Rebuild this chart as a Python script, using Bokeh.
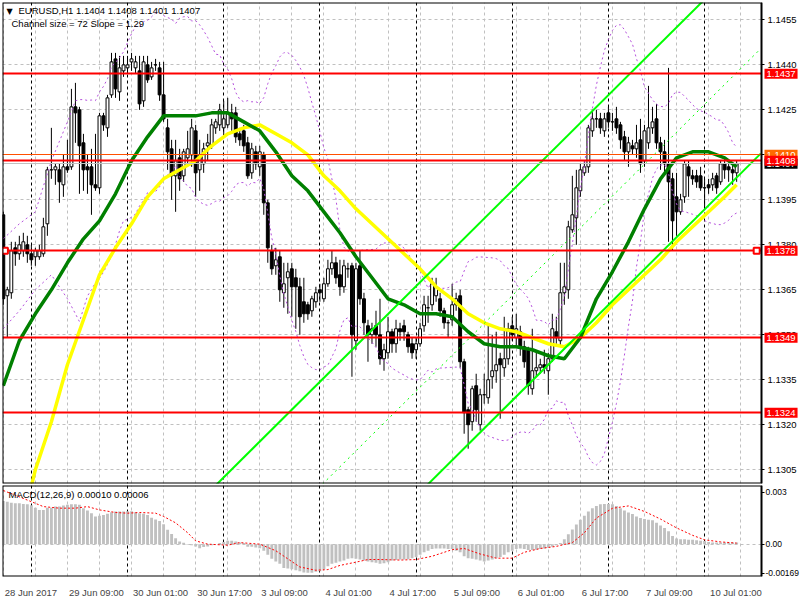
import numpy as np
from bokeh.plotting import figure
from bokeh.layouts import column
from bokeh.models import Range1d, FixedTicker, Label, NumeralTickFormatter, ColumnDataSource, Grid
from bokeh.embed import file_html
from bokeh.resources import INLINE

# ---------------- data ----------------
header_text = "EURUSD,H1  1.1404 1.1408 1.1401 1.1407"
channel_text = "Channel size = 72 Slope = 1.29"
macd_text = "MACD(12,26,9) 0.00010 0.00006"

opens = [
    1.1390, 1.1363, 1.1364, 1.1379, 1.1377, 1.1378, 1.1380, 1.1377, 1.1376, 1.1376,
    1.1377, 1.1387, 1.1405, 1.1405, 1.1405, 1.1400, 1.1406, 1.1406, 1.1426, 1.1425,
    1.1414, 1.1406, 1.1406, 1.1400, 1.1399, 1.1423, 1.1419, 1.1430, 1.1442, 1.1431,
    1.1438, 1.1439, 1.1441, 1.1439, 1.1438, 1.1428, 1.1440, 1.1436, 1.1440, 1.1439,
    1.1430, 1.1419, 1.1412, 1.1403, 1.1409, 1.1403, 1.1409, 1.1410, 1.1418, 1.1405,
    1.1407, 1.1413, 1.1413, 1.1419, 1.1420, 1.1419, 1.1420, 1.1424, 1.1424, 1.1417,
    1.1418, 1.1414, 1.1404, 1.1411, 1.1406, 1.1410, 1.1394, 1.1378, 1.1373, 1.1376,
    1.1364, 1.1369, 1.1372, 1.1369, 1.1366, 1.1361, 1.1360, 1.1358, 1.1361, 1.1365,
    1.1362, 1.1367, 1.1372, 1.1374, 1.1370, 1.1366, 1.1372, 1.1373, 1.1348, 1.1373,
    1.1362, 1.1353, 1.1350, 1.1353, 1.1350, 1.1342, 1.1344, 1.1351, 1.1347, 1.1352,
    1.1353, 1.1350, 1.1347, 1.1345, 1.1347, 1.1353, 1.1359, 1.1360, 1.1363, 1.1362,
    1.1358, 1.1354, 1.1355, 1.1360, 1.1363, 1.1341, 1.1325, 1.1321, 1.1333, 1.1320,
    1.1330, 1.1329, 1.1336, 1.1338, 1.1342, 1.1339, 1.1342, 1.1353, 1.1349, 1.1351,
    1.1346, 1.1345, 1.1332, 1.1338, 1.1339, 1.1340, 1.1338, 1.1342, 1.1351, 1.1348,
    1.1364, 1.1365, 1.1385, 1.1389, 1.1398, 1.1404, 1.1406, 1.1418, 1.1422, 1.1422,
    1.1418, 1.1424, 1.1421, 1.1422, 1.1420, 1.1416, 1.1411, 1.1413, 1.1412, 1.1415,
    1.1408, 1.1414, 1.1419, 1.1422, 1.1414, 1.1411, 1.1407, 1.1402, 1.1396, 1.1391,
    1.1396, 1.1406, 1.1403, 1.1403, 1.1403, 1.1399, 1.1400, 1.1400, 1.1403, 1.1401,
    1.1407, 1.1406, 1.1405, 1.1404,
]
highs = [
    1.1391, 1.1366, 1.1381, 1.1381, 1.1383, 1.1384, 1.1383, 1.1380, 1.1379, 1.1380,
    1.1389, 1.1406, 1.1419, 1.1407, 1.1407, 1.1410, 1.1415, 1.1432, 1.1434, 1.1426,
    1.1417, 1.1410, 1.1412, 1.1417, 1.1424, 1.1424, 1.1430, 1.1444, 1.1444, 1.1443,
    1.1443, 1.1443, 1.1444, 1.1443, 1.1443, 1.1443, 1.1443, 1.1441, 1.1442, 1.1441,
    1.1441, 1.1422, 1.1415, 1.1415, 1.1412, 1.1412, 1.1418, 1.1422, 1.1420, 1.1415,
    1.1414, 1.1417, 1.1422, 1.1422, 1.1427, 1.1428, 1.1429, 1.1427, 1.1426, 1.1419,
    1.1420, 1.1416, 1.1414, 1.1413, 1.1413, 1.1411, 1.1395, 1.1380, 1.1379, 1.1378,
    1.1374, 1.1374, 1.1374, 1.1372, 1.1369, 1.1369, 1.1361, 1.1363, 1.1366, 1.1367,
    1.1369, 1.1375, 1.1378, 1.1376, 1.1375, 1.1375, 1.1374, 1.1374, 1.1374, 1.1378,
    1.1364, 1.1355, 1.1354, 1.1358, 1.1362, 1.1347, 1.1356, 1.1352, 1.1355, 1.1354,
    1.1355, 1.1351, 1.1349, 1.1349, 1.1354, 1.1363, 1.1363, 1.1369, 1.1369, 1.1364,
    1.1359, 1.1355, 1.1367, 1.1364, 1.1365, 1.1342, 1.1326, 1.1333, 1.1337, 1.1332,
    1.1337, 1.1353, 1.1350, 1.1351, 1.1344, 1.1356, 1.1354, 1.1356, 1.1357, 1.1353,
    1.1348, 1.1346, 1.1352, 1.1344, 1.1342, 1.1345, 1.1344, 1.1357, 1.1356, 1.1374,
    1.1374, 1.1388, 1.1403, 1.1405, 1.1407, 1.1408, 1.1420, 1.1425, 1.1425, 1.1424,
    1.1424, 1.1426, 1.1424, 1.1426, 1.1421, 1.1418, 1.1416, 1.1415, 1.1420, 1.1422,
    1.1420, 1.1433, 1.1426, 1.1427, 1.1416, 1.1415, 1.1439, 1.1404, 1.1404, 1.1397,
    1.1408, 1.1408, 1.1405, 1.1405, 1.1406, 1.1402, 1.1402, 1.1404, 1.1404, 1.1408,
    1.1409, 1.1407, 1.1407, 1.1408,
]
lows = [
    1.1360, 1.1349, 1.1362, 1.1373, 1.1375, 1.1376, 1.1374, 1.1373, 1.1373, 1.1375,
    1.1376, 1.1383, 1.1402, 1.1400, 1.1394, 1.1396, 1.1404, 1.1405, 1.1414, 1.1397,
    1.1398, 1.1397, 1.1390, 1.1398, 1.1397, 1.1418, 1.1416, 1.1429, 1.1429, 1.1428,
    1.1436, 1.1437, 1.1438, 1.1437, 1.1425, 1.1426, 1.1434, 1.1435, 1.1438, 1.1428,
    1.1421, 1.1405, 1.1395, 1.1391, 1.1398, 1.1401, 1.1407, 1.1406, 1.1396, 1.1398,
    1.1404, 1.1408, 1.1412, 1.1417, 1.1418, 1.1416, 1.1419, 1.1418, 1.1414, 1.1413,
    1.1411, 1.1402, 1.1402, 1.1405, 1.1403, 1.1390, 1.1374, 1.1370, 1.1370, 1.1361,
    1.1359, 1.1357, 1.1356, 1.1352, 1.1350, 1.1354, 1.1355, 1.1356, 1.1359, 1.1361,
    1.1361, 1.1366, 1.1370, 1.1367, 1.1363, 1.1364, 1.1369, 1.1336, 1.1345, 1.1360,
    1.1350, 1.1341, 1.1347, 1.1346, 1.1340, 1.1338, 1.1342, 1.1344, 1.1344, 1.1348,
    1.1348, 1.1344, 1.1342, 1.1342, 1.1346, 1.1351, 1.1354, 1.1358, 1.1361, 1.1356,
    1.1352, 1.1349, 1.1353, 1.1358, 1.1339, 1.1317, 1.1312, 1.1318, 1.1321, 1.1318,
    1.1327, 1.1327, 1.1332, 1.1334, 1.1322, 1.1336, 1.1340, 1.1348, 1.1346, 1.1343,
    1.1339, 1.1330, 1.1330, 1.1336, 1.1337, 1.1337, 1.1330, 1.1341, 1.1347, 1.1346,
    1.1360, 1.1362, 1.1384, 1.1380, 1.1396, 1.1403, 1.1404, 1.1416, 1.1419, 1.1417,
    1.1416, 1.1419, 1.1418, 1.1417, 1.1412, 1.1408, 1.1406, 1.1410, 1.1409, 1.1404,
    1.1406, 1.1412, 1.1417, 1.1412, 1.1405, 1.1404, 1.1381, 1.1378, 1.1383, 1.1390,
    1.1394, 1.1396, 1.1400, 1.1399, 1.1398, 1.1392, 1.1397, 1.1398, 1.1397, 1.1400,
    1.1402, 1.1401, 1.1400, 1.1401,
]
closes = [
    1.1362, 1.1365, 1.1378, 1.1377, 1.1380, 1.1381, 1.1377, 1.1375, 1.1378, 1.1378,
    1.1386, 1.1405, 1.1405, 1.1406, 1.1401, 1.1406, 1.1405, 1.1426, 1.1424, 1.1413,
    1.1405, 1.1405, 1.1400, 1.1399, 1.1423, 1.1420, 1.1429, 1.1441, 1.1432, 1.1439,
    1.1440, 1.1440, 1.1442, 1.1441, 1.1427, 1.1441, 1.1435, 1.1439, 1.1440, 1.1430,
    1.1422, 1.1411, 1.1403, 1.1408, 1.1402, 1.1411, 1.1412, 1.1419, 1.1404, 1.1410,
    1.1412, 1.1414, 1.1420, 1.1421, 1.1425, 1.1422, 1.1424, 1.1422, 1.1416, 1.1415,
    1.1413, 1.1403, 1.1412, 1.1407, 1.1411, 1.1394, 1.1379, 1.1372, 1.1375, 1.1365,
    1.1367, 1.1371, 1.1366, 1.1366, 1.1356, 1.1357, 1.1357, 1.1362, 1.1364, 1.1364,
    1.1367, 1.1372, 1.1374, 1.1369, 1.1366, 1.1373, 1.1372, 1.1350, 1.1372, 1.1362,
    1.1354, 1.1350, 1.1352, 1.1350, 1.1342, 1.1345, 1.1351, 1.1347, 1.1352, 1.1351,
    1.1351, 1.1346, 1.1344, 1.1347, 1.1352, 1.1360, 1.1359, 1.1367, 1.1366, 1.1358,
    1.1354, 1.1354, 1.1360, 1.1362, 1.1341, 1.1324, 1.1320, 1.1332, 1.1325, 1.1330,
    1.1330, 1.1335, 1.1338, 1.1340, 1.1340, 1.1342, 1.1352, 1.1350, 1.1352, 1.1346,
    1.1341, 1.1333, 1.1338, 1.1339, 1.1340, 1.1339, 1.1342, 1.1352, 1.1349, 1.1364,
    1.1366, 1.1386, 1.1390, 1.1399, 1.1405, 1.1406, 1.1419, 1.1422, 1.1422, 1.1419,
    1.1422, 1.1421, 1.1421, 1.1419, 1.1415, 1.1411, 1.1414, 1.1412, 1.1414, 1.1407,
    1.1418, 1.1419, 1.1421, 1.1414, 1.1411, 1.1407, 1.1401, 1.1388, 1.1391, 1.1395,
    1.1407, 1.1403, 1.1402, 1.1401, 1.1399, 1.1399, 1.1399, 1.1402, 1.1399, 1.1407,
    1.1405, 1.1405, 1.1404, 1.1407,
]

time_label_bars = [0, 16, 32, 48, 64, 80, 96, 112, 128, 144, 160, 176]
time_labels = ["28 Jun 2017", "29 Jun 09:00", "30 Jun 01:00", "30 Jun 17:00", "3 Jul 09:00",
               "4 Jul 01:00", "4 Jul 17:00", "5 Jul 09:00", "6 Jul 01:00", "6 Jul 17:00",
               "7 Jul 09:00", "10 Jul 01:00"]
day_start_bars = [7, 31, 55, 79, 103, 127, 151, 175]
grid_bars = [0, 8, 16, 24, 32, 40, 48, 56, 64, 72, 80, 88, 96, 104, 112, 120, 128, 136,
             144, 152, 160, 168, 176, 184]
price_ticks = [1.1305, 1.1320, 1.1335, 1.1350, 1.1365, 1.1380, 1.1395, 1.1410, 1.1425,
               1.1440, 1.1455]

# moving averages (sampled every 4 bars)
ma_green_bars = [0, 4, 8, 12, 16, 20, 24, 28, 32, 36, 40, 44, 48, 52, 56, 60, 64, 68, 72,
                 76, 80, 84, 88, 92, 96, 100, 104, 108, 112, 116, 120, 124, 128, 132, 136,
                 140, 144, 148, 152, 156, 160, 164, 168, 172, 176, 180, 183]
ma_green = [1.1333, 1.1348, 1.1357, 1.1365, 1.1374, 1.1382, 1.1388, 1.1397, 1.1408, 1.1416,
            1.1423, 1.1423, 1.1423, 1.1424, 1.1424, 1.1421, 1.1418, 1.1411, 1.1403, 1.1398,
            1.1391, 1.1384, 1.1376, 1.1369, 1.1362, 1.1360, 1.1357, 1.1357, 1.1356, 1.1351,
            1.1347, 1.1346, 1.1346, 1.1345, 1.1343, 1.1342, 1.1349, 1.1362, 1.1371, 1.1381,
            1.1392, 1.1402, 1.1409, 1.1411, 1.1411, 1.1409, 1.1406]
ma_yellow_bars = [4, 8, 12, 16, 20, 24, 28, 32, 36, 40, 44, 48, 52, 56, 60, 64, 68, 72, 76,
                  80, 84, 88, 92, 96, 100, 104, 108, 112, 116, 120, 124, 128, 132, 136, 140,
                  144, 148, 152, 156, 160, 164, 168, 172, 176, 180, 183]
ma_yellow = [1.1283, 1.1305, 1.1321, 1.1340, 1.1355, 1.1370, 1.1379, 1.1387, 1.1396, 1.1402,
             1.1405, 1.1408, 1.1413, 1.1417, 1.1419, 1.1420, 1.1417, 1.1414, 1.1410, 1.1403,
             1.1398, 1.1392, 1.1387, 1.1382, 1.1377, 1.1372, 1.1366, 1.1362, 1.1357, 1.1354,
             1.1352, 1.1351, 1.1349, 1.1347, 1.1346, 1.1349, 1.1354, 1.1360, 1.1365, 1.1370,
             1.1375, 1.1381, 1.1386, 1.1391, 1.1396, 1.1400]

# Bollinger band before 20 bars of history exist on screen
bb_period = 20
bb_early_bars = [0, 4, 8, 12, 16, 18]
bb_early_upper = [1.1382, 1.1387, 1.1391, 1.1408, 1.1421, 1.1428]
bb_early_lower = [1.1352, 1.1358, 1.1365, 1.1370, 1.1362, 1.1357]

# regression channel (lower line end points and channel width)
chan_bars = [0, 189]
chan_lower = [1.11594, 1.14104]
chan_width = 0.0070

level_prices = [1.1437, 1.1408, 1.1378, 1.1349, 1.1324]
pending_price = 1.1410
bid_price = 1.1407
marked_level = 1.1378

macd_hist = [
    0.00249, 0.00245, 0.00240, 0.00236, 0.00236, 0.00232, 0.00230, 0.00225, 0.00211, 0.00198,
    0.00198, 0.00211, 0.00211, 0.00217, 0.00217, 0.00223, 0.00228, 0.00230, 0.00230, 0.00228,
    0.00207, 0.00194, 0.00179, 0.00160, 0.00164, 0.00168, 0.00175, 0.00185, 0.00189, 0.00189,
    0.00189, 0.00190, 0.00190, 0.00185, 0.00179, 0.00175, 0.00168, 0.00153, 0.00143, 0.00134,
    0.00115, 0.00083, 0.00058, 0.00034, 0.00015, 0.00008, -0.00004, -0.00006, -0.00013, -0.00023,
    -0.00017, -0.00013, -0.00006, 0.00000, 0.00006, 0.00013, 0.00019, 0.00019, 0.00015, 0.00009,
    0.00006, -0.00015, -0.00015, -0.00019, -0.00023, -0.00038, -0.00062, -0.00085, -0.00100, -0.00113,
    -0.00138, -0.00141, -0.00145, -0.00151, -0.00157, -0.00164, -0.00166, -0.00166, -0.00160, -0.00157,
    -0.00145, -0.00128, -0.00113, -0.00108, -0.00100, -0.00094, -0.00085, -0.00081, -0.00085, -0.00089,
    -0.00094, -0.00100, -0.00104, -0.00108, -0.00113, -0.00110, -0.00104, -0.00094, -0.00091, -0.00089,
    -0.00089, -0.00087, -0.00081, -0.00075, -0.00062, -0.00047, -0.00038, -0.00028, -0.00025, -0.00025,
    -0.00025, -0.00028, -0.00028, -0.00038, -0.00047, -0.00070, -0.00081, -0.00085, -0.00089, -0.00094,
    -0.00100, -0.00094, -0.00089, -0.00081, -0.00075, -0.00062, -0.00047, -0.00038, -0.00028, -0.00025,
    -0.00028, -0.00034, -0.00034, -0.00032, -0.00028, -0.00025, -0.00021, -0.00015, -0.00006, 0.00006,
    0.00028, 0.00057, 0.00085, 0.00113, 0.00141, 0.00164, 0.00189, 0.00207, 0.00221, 0.00230,
    0.00232, 0.00232, 0.00230, 0.00221, 0.00207, 0.00194, 0.00183, 0.00174, 0.00160, 0.00151,
    0.00145, 0.00141, 0.00138, 0.00123, 0.00108, 0.00094, 0.00075, 0.00047, 0.00032, 0.00028,
    0.00028, 0.00025, 0.00025, 0.00023, 0.00019, 0.00018, 0.00013, 0.00009, 0.00009, 0.00009,
    0.00009, 0.00009, 0.00009, 0.00010,
]
signal_bars = [0, 3, 8, 10, 14, 18, 21, 24, 28, 31, 34, 38, 40, 43, 46, 48, 51, 56, 59, 64,
               68, 71, 74, 78, 81, 84, 88, 91, 94, 99, 103, 107, 112, 115, 119, 123, 127, 130,
               134, 138, 142, 145, 148, 152, 156, 160, 164, 168, 172, 175, 179, 183]
signal_vals = [0.00310, 0.00283, 0.00236, 0.00217, 0.00208, 0.00208, 0.00217, 0.00198, 0.00183,
               0.00179, 0.00183, 0.00179, 0.00160, 0.00123, 0.00066, 0.00019, 0.00000, -0.00006,
               0.00009, 0.00000, -0.00038, -0.00085, -0.00132, -0.00151, -0.00147, -0.00123,
               -0.00104, -0.00089, -0.00089, -0.00092, -0.00089, -0.00070, -0.00032, -0.00025,
               -0.00057, -0.00081, -0.00081, -0.00047, -0.00025, -0.00013, 0.00009, 0.00066,
               0.00151, 0.00207, 0.00221, 0.00189, 0.00145, 0.00094, 0.00051, 0.00025, 0.00013,
               0.00006]
macd_ticks = [-0.00169, 0.0, 0.003]
macd_tick_labels = ["-0.00169", "0.00", "0.003"]

# ---------------- layout constants ----------------
FONT = "Liberation Sans"
FS = "9.5px"
W = 800
LEFT_B = 2
X0, X1 = -0.2, 189.2          # visible bar span of the chart frame
PX_PER_BAR = 759 / (X1 - X0)  # chart frame is 759 px wide in the reference
X_END = X0 + (W - LEFT_B) / PX_PER_BAR   # frame extended under the price scale
PY0, PY1 = 1.13004, 1.14608
MY0, MY1 = -0.00187, 0.00339

x_range = Range1d(X0, X_END)
n = len(closes)
bars = list(range(n))

def style_yaxis(ax, size=FS, standoff=3):
    ax.fixed_location = X1
    ax.major_tick_in = 0
    ax.major_tick_out = 3
    ax.minor_tick_line_color = None
    ax.major_label_standoff = standoff
    ax.major_label_text_font = FONT
    ax.major_label_text_font_size = size
    ax.major_label_text_color = "black"
    ax.axis_line_color = "black"

# ---------------- main price panel ----------------
p = figure(width=W, height=484, x_range=x_range, y_range=Range1d(PY0, PY1),
           output_backend="svg", toolbar_location=None, y_axis_location="right",
           x_axis_location=None, min_border_left=LEFT_B, min_border_right=0,
           min_border_top=2, min_border_bottom=1)
p.outline_line_color = None
p.background_fill_color = "white"
p.border_fill_color = "white"

yax = p.yaxis[0]
yax.ticker = FixedTicker(ticks=price_ticks)
yax.formatter = NumeralTickFormatter(format="0.0000")
style_yaxis(yax)

p.ygrid.grid_line_color = "#C0C0C0"
p.ygrid.grid_line_dash = "3 3"
for g in p.xgrid:
    g.visible = False
p.add_layout(Grid(dimension=0, ticker=FixedTicker(ticks=grid_bars),
                  grid_line_color="#C0C0C0", grid_line_dash="3 3"))

# day separators
p.vspan(x=day_start_bars, line_color="black", line_dash="3 3", line_width=1)

# candles
o = np.array(opens); c = np.array(closes)
src = ColumnDataSource(dict(
    x=bars, h=highs, l=lows,
    top=np.maximum(o, c), bottom=np.minimum(o, c),
    fill=["white" if cc >= oo else "black" for oo, cc in zip(opens, closes)],
))
p.segment(x0="x", y0="h", x1="x", y1="l", source=src, line_color="black", line_width=1)
p.vbar(x="x", width=0.72, top="top", bottom="bottom", source=src,
       fill_color="fill", line_color="black", line_width=1)

# Bollinger bands (20, 2) from the closes, with the early part
cl = np.array(closes)
bb_bars = list(bb_early_bars)
bb_up = list(bb_early_upper)
bb_lo = list(bb_early_lower)
for i in range(bb_period - 1, n):
    w = cl[i - bb_period + 1:i + 1]
    m, s = w.mean(), w.std()
    bb_bars.append(i)
    bb_up.append(m + 2 * s)
    bb_lo.append(m - 2 * s)
p.line(bb_bars, bb_up, line_color="#B450DC", line_dash="2 3", line_width=1)
p.line(bb_bars, bb_lo, line_color="#B450DC", line_dash="2 3", line_width=1)

# moving averages
p.line(ma_yellow_bars, ma_yellow, line_color="#FFFF00", line_width=3.5)
p.line(ma_green_bars, ma_green, line_color="#008000", line_width=3.5)

# regression channel
lo = np.array(chan_lower)
p.line(chan_bars, lo, line_color="#00FF00", line_width=2)
p.line(chan_bars, lo + chan_width, line_color="#00FF00", line_width=2)
p.line(chan_bars, lo + chan_width / 2, line_color="#00FF00", line_width=1, line_dash="2 4")

# horizontal levels
p.hspan(y=[bid_price], line_color="#C0C0C0", line_width=1)
p.hspan(y=[pending_price], line_color="#FF5000", line_width=1)
p.hspan(y=level_prices, line_color="#FF0000", line_width=2)
p.scatter(x=[0.4, 188.0], y=[marked_level, marked_level], marker="square", size=6,
          fill_color="white", line_color="#FF0000", line_width=2)

# price-scale strip (white) and chart border
p.quad(left=[X1], right=[X_END + 1], bottom=[PY0 - 0.001], top=[PY1 + 0.001],
       fill_color="white", line_color=None)
p.quad(left=[X0], right=[X1], bottom=[PY0], top=[PY1], fill_color=None,
       line_color="black", line_width=2)

# price tags on the price scale
def tag(price, bg, fg="white"):
    p.add_layout(Label(x=X1, y=price, x_offset=3, text=f"{price:.4f}", text_align="left",
                       text_baseline="middle", text_color=fg, text_font=FONT,
                       text_font_size=FS, background_fill_color=bg, padding=2))

tag(pending_price, "#FF6A00")
tag(bid_price, "black")
for lv in level_prices:
    tag(lv, "#FF0000")

# header texts
p.add_layout(Label(x=X0, y=PY1, x_offset=4, y_offset=-4, text="\u25BC", text_baseline="top",
                   text_font="DejaVu Sans", text_font_size="8px", text_color="black"))
p.add_layout(Label(x=X0, y=PY1, x_offset=16, y_offset=-2, text=header_text,
                   text_baseline="top", text_font=FONT, text_font_size=FS, text_color="black"))
p.add_layout(Label(x=X0, y=PY1, x_offset=9, y_offset=-15, text=channel_text,
                   text_baseline="top", text_font=FONT, text_font_size=FS, text_color="black"))

# ---------------- MACD panel ----------------
q = figure(width=W, height=116, x_range=x_range, y_range=Range1d(MY0, MY1),
           output_backend="svg", toolbar_location=None, y_axis_location="right",
           min_border_left=LEFT_B, min_border_right=0, min_border_top=1,
           min_border_bottom=22)
q.outline_line_color = None
q.background_fill_color = "white"
q.border_fill_color = "white"

qy = q.yaxis[0]
qy.ticker = FixedTicker(ticks=macd_ticks)
qy.major_label_overrides = {t: s for t, s in zip(macd_ticks, macd_tick_labels)}
style_yaxis(qy, size="8.5px", standoff=1)

# time axis: labels start at the bar they name
char_w = {" ": 0.278, ":": 0.278, "J": 0.5, "l": 0.222}
def text_px(s):
    return sum(char_w.get(ch, 0.556) for ch in s) * 9.5

label_pos = [b + (1.5 + text_px(s) / 2) / PX_PER_BAR for b, s in zip(time_label_bars, time_labels)]
qx = q.xaxis[0]
qx.ticker = FixedTicker(ticks=label_pos)
qx.major_label_overrides = {pos: s for pos, s in zip(label_pos, time_labels)}
qx.major_tick_line_color = None
qx.minor_tick_line_color = None
qx.axis_line_color = None
qx.major_label_standoff = 4
qx.major_label_text_font = FONT
qx.major_label_text_font_size = FS

q.xgrid.visible = False
q.ygrid.visible = False
q.add_layout(Grid(dimension=0, ticker=FixedTicker(ticks=grid_bars),
                  grid_line_color="#C0C0C0", grid_line_dash="3 3"))
q.add_layout(Grid(dimension=1, ticker=FixedTicker(ticks=[0.0]),
                  grid_line_color="#C0C0C0", grid_line_dash="3 3"))
q.vspan(x=day_start_bars, line_color="black", line_dash="3 3", line_width=1)

q.vbar(x=bars, top=macd_hist, bottom=0, width=0.72, fill_color="#C0C0C0", line_color=None)
q.line(signal_bars, signal_vals, line_color="#FF0000", line_dash="2 2", line_width=1)

q.quad(left=[X1], right=[X_END + 1], bottom=[MY0 - 0.001], top=[MY1 + 0.001],
       fill_color="white", line_color=None)
q.quad(left=[X0], right=[X1], bottom=[MY0], top=[MY1], fill_color=None,
       line_color="black", line_width=2)

q.add_layout(Label(x=X0, y=MY1, x_offset=6, y_offset=-3, text=macd_text, text_baseline="top",
                   text_font=FONT, text_font_size=FS, text_color="black"))

layout = column(p, q, spacing=0)
open("out.html", "w").write(file_html(layout, INLINE, title="EURUSD H1"))
